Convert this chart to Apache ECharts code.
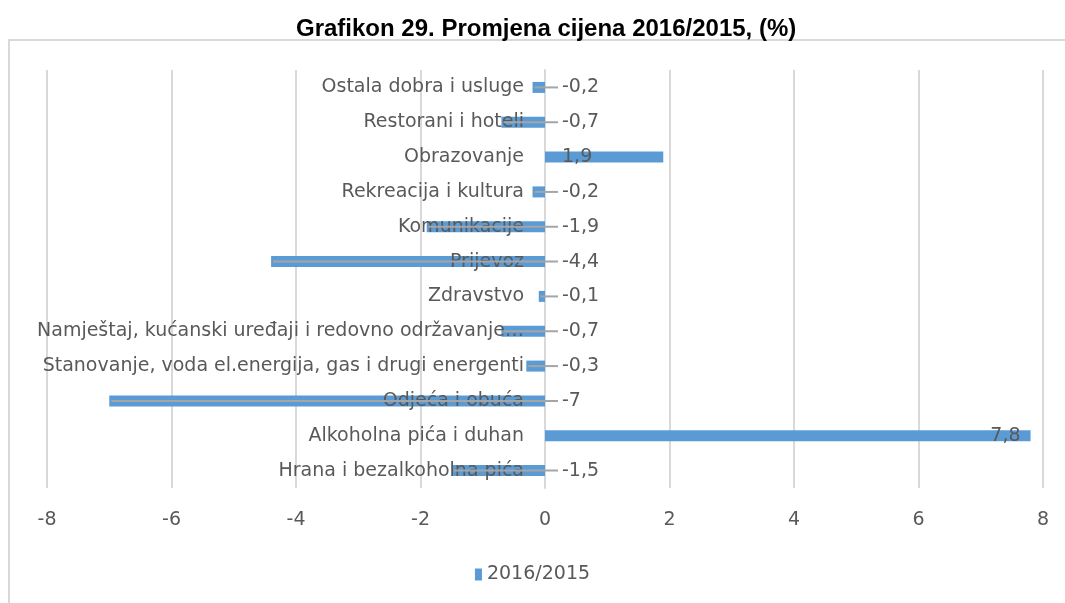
<!DOCTYPE html>
<html>
<head>
<meta charset="utf-8">
<script src="https://cdn.jsdelivr.net/npm/echarts@6/dist/echarts.min.js"></script>
<style>
html,body{margin:0;padding:0;background:#fff;}
#chart{width:1065px;height:603px;}
</style>
</head>
<body>
<div id="chart"></div>
<script>
var categories = ['Hrana i bezalkoholna pića','Alkoholna pića i duhan','Odjeća i obuća',
	'Stanovanje, voda el.energija, gas i drugi energenti','Namještaj, kućanski uređaji i redovno održavanje…',
	'Zdravstvo','Prijevoz','Komunikacije','Rekreacija i kultura','Obrazovanje','Restorani i hoteli','Ostala dobra i usluge'];
var values = [-1.5, 7.8, -7, -0.3, -0.7, -0.1, -4.4, -1.9, -0.2, 1.9, -0.7, -0.2];
var seriesName = '2016/2015';
var xTicks = {min: -8, max: 8, interval: 2};

var txtColor = '#595959';
var fnt = 'DejaVu Sans';
var fs = 19;

function fmt(v){
	return String(v).replace('.', ',');
}

var myChart = echarts.init(document.getElementById('chart'));
var labelData = [];
for(var i=0;i<values.length;i++){
	labelData.push([values[i], i]);
}
var option = {
	animation: false,
	title: {
		text: 'Grafikon 29. Promjena cijena 2016/2015, (%)',
		left: 291,
		top: 12,
		textStyle: {fontFamily: 'Liberation Sans', fontWeight: 'bold', fontSize: 24, color: '#000'}
	},
	graphic: [{
		type: 'rect',
		shape: {x: 9, y: 40, width: 1100, height: 600},
		style: {fill: 'none', stroke: '#d9d9d9', lineWidth: 2},
		silent: true
	}],
	legend: {
		data: [seriesName],
		bottom: 14,
		left: 'center',
		icon: 'rect',
		itemWidth: 7,
		itemHeight: 12,
		itemGap: 5,
		textStyle: {fontFamily: fnt, fontSize: fs, color: txtColor}
	},
	grid: {left: 47, right: 22, top: 70, bottom: 115, outerBoundsMode: 'none'},
	xAxis: {
		type: 'value',
		min: xTicks.min, max: xTicks.max, interval: xTicks.interval,
		axisLine: {show: false},
		axisTick: {show: false},
		axisLabel: {margin: 23, fontFamily: fnt, fontSize: fs, color: txtColor},
		splitLine: {lineStyle: {color: '#d9d9d9', width: 2}}
	},
	yAxis: {
		type: 'category',
		data: categories,
		axisLine: {show: true, onZero: true, lineStyle: {color: '#d9d9d9', width: 2}},
		axisTick: {show: false},
		axisLabel: {show: false}
	},
	series: [
		{
			name: seriesName,
			type: 'bar',
			data: values,
			barWidth: 11,
			itemStyle: {color: '#5b9bd5'}
		},
		{
			name: 'labels',
			type: 'custom',
			z: 6,
			data: labelData,
			encode: {x: 0, y: 1},
			renderItem: function(params, api){
				var v = api.value(0);
				var c = api.value(1);
				var z = api.coord([0, c]);
				var p = api.coord([v, c]);
				var kids = [];
				// category name, drawn at the zero line
				kids.push({type: 'text', x: z[0] - 21, y: z[1],
					style: {text: categories[c], align: 'right', verticalAlign: 'middle', fill: txtColor, font: fs + 'px ' + fnt}});
				if(v < 0){
					kids.push({type: 'line', shape: {x1: p[0] + 2, y1: z[1], x2: z[0] + 13, y2: z[1]},
						style: {stroke: '#a5a5a5', lineWidth: 2}});
				}
				var tx, al;
				if(v > 5){ tx = p[0] - 10; al = 'right'; }
				else { tx = z[0] + 17; al = 'left'; }
				kids.push({type: 'text', x: tx, y: z[1],
					style: {text: fmt(v), align: al, verticalAlign: 'middle', fill: txtColor, font: fs + 'px ' + fnt}});
				return {type: 'group', children: kids};
			}
		}
	]
};
myChart.setOption(option);
</script>
</body>
</html>
